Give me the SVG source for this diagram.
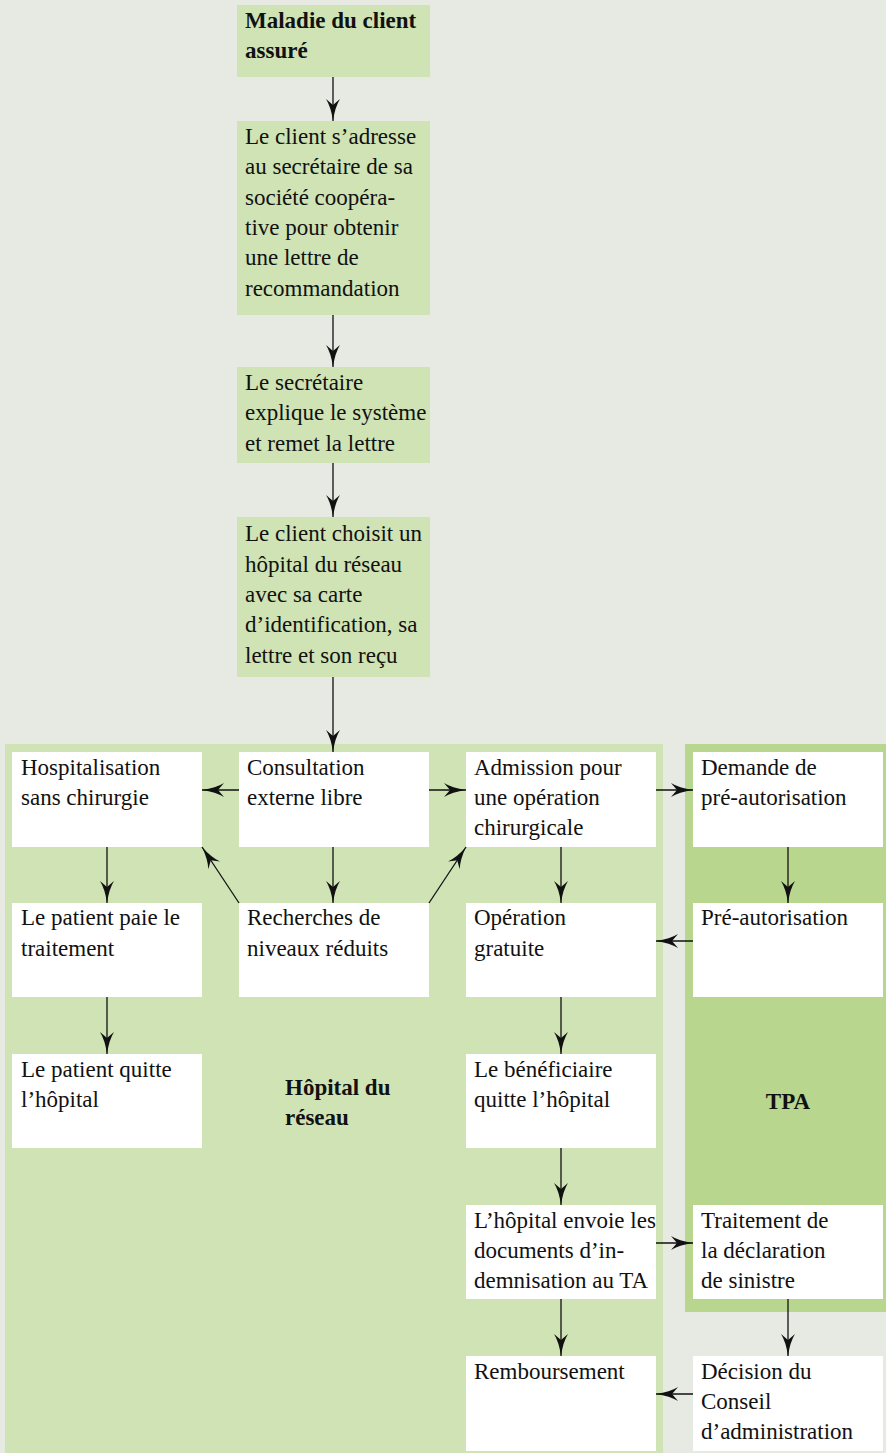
<svg xmlns="http://www.w3.org/2000/svg" width="886" height="1453" viewBox="0 0 886 1453">
<defs>
<style>
.bg{fill:#e7eae2}
.lg{fill:#cfe3b5}
.dg{fill:#b8d68e}
.wb{fill:#ffffff}
.t{font-family:"Liberation Serif","Times New Roman",serif;font-size:23px;fill:#111}
.b{font-weight:bold}
.c{stroke:#111;stroke-width:1.3;fill:none;marker-end:url(#ah)}
</style>
<marker id="ah" markerUnits="userSpaceOnUse" markerWidth="22" markerHeight="14" refX="22" refY="7" orient="auto"><path d="M0,0 Q8,5 22,7 Q8,9 0,14 L6,7 Z" fill="#111"/></marker>
</defs>
<rect class="bg" x="0" y="0" width="886" height="1453"/>
<rect id="hopital-region" class="lg" x="5" y="744" width="658" height="709"/>
<rect id="tpa-region" class="dg" x="685" y="744" width="201" height="568"/>

<g id="n-maladie"><rect class="lg" x="237" y="5" width="193" height="72"/>
<text class="t b"><tspan x="245" y="28">Maladie du client</tspan><tspan x="245" y="58">assuré</tspan></text></g>

<g id="n-client-adresse"><rect class="lg" x="237" y="121" width="193" height="194"/>
<text class="t"><tspan x="245" y="144">Le client s’adresse</tspan><tspan x="245" y="174">au secrétaire de sa</tspan><tspan x="245" y="205">société coopéra-</tspan><tspan x="245" y="235">tive pour obtenir</tspan><tspan x="245" y="265">une lettre de</tspan><tspan x="245" y="296">recommandation</tspan></text></g>

<g id="n-secretaire"><rect class="lg" x="237" y="367" width="193" height="96"/>
<text class="t"><tspan x="245" y="390">Le secrétaire</tspan><tspan x="245" y="420">explique le système</tspan><tspan x="245" y="451">et remet la lettre</tspan></text></g>

<g id="n-choisit"><rect class="lg" x="237" y="517" width="193" height="160"/>
<text class="t"><tspan x="245" y="541">Le client choisit un</tspan><tspan x="245" y="572">hôpital du réseau</tspan><tspan x="245" y="602">avec sa carte</tspan><tspan x="245" y="632">d’identification, sa</tspan><tspan x="245" y="663">lettre et son reçu</tspan></text></g>

<g id="n-hospitalisation"><rect class="wb" x="12" y="752" width="190" height="95"/>
<text class="t"><tspan x="21" y="775">Hospitalisation</tspan><tspan x="21" y="805">sans chirurgie</tspan></text></g>

<g id="n-consultation"><rect class="wb" x="239" y="752" width="190" height="95"/>
<text class="t"><tspan x="247" y="775">Consultation</tspan><tspan x="247" y="805">externe libre</tspan></text></g>

<g id="n-admission"><rect class="wb" x="466" y="752" width="190" height="95"/>
<text class="t"><tspan x="474" y="775">Admission pour</tspan><tspan x="474" y="805">une opération</tspan><tspan x="474" y="835">chirurgicale</tspan></text></g>

<g id="n-demande"><rect class="wb" x="693" y="752" width="190" height="95"/>
<text class="t"><tspan x="701" y="775">Demande de</tspan><tspan x="701" y="805">pré-autorisation</tspan></text></g>

<g id="n-paie"><rect class="wb" x="12" y="903" width="190" height="94"/>
<text class="t"><tspan x="21" y="925">Le patient paie le</tspan><tspan x="21" y="956">traitement</tspan></text></g>

<g id="n-recherches"><rect class="wb" x="239" y="903" width="190" height="94"/>
<text class="t"><tspan x="247" y="925">Recherches de</tspan><tspan x="247" y="956">niveaux réduits</tspan></text></g>

<g id="n-operation"><rect class="wb" x="466" y="903" width="190" height="94"/>
<text class="t"><tspan x="474" y="925">Opération</tspan><tspan x="474" y="956">gratuite</tspan></text></g>

<g id="n-preautorisation"><rect class="wb" x="693" y="903" width="190" height="94"/>
<text class="t"><tspan x="701" y="925">Pré-autorisation</tspan></text></g>

<g id="n-quitte"><rect class="wb" x="12" y="1054" width="190" height="94"/>
<text class="t"><tspan x="21" y="1077">Le patient quitte</tspan><tspan x="21" y="1107">l’hôpital</tspan></text></g>

<g id="n-beneficiaire"><rect class="wb" x="466" y="1054" width="190" height="94"/>
<text class="t"><tspan x="474" y="1077">Le bénéficiaire</tspan><tspan x="474" y="1107">quitte l’hôpital</tspan></text></g>

<g id="n-envoie"><rect class="wb" x="466" y="1205" width="190" height="94"/>
<text class="t"><tspan x="474" y="1228">L’hôpital envoie les</tspan><tspan x="474" y="1258">documents d’in-</tspan><tspan x="474" y="1288">demnisation au TA</tspan></text></g>

<g id="n-traitement"><rect class="wb" x="693" y="1205" width="190" height="94"/>
<text class="t"><tspan x="701" y="1228">Traitement de</tspan><tspan x="701" y="1258">la déclaration</tspan><tspan x="701" y="1288">de sinistre</tspan></text></g>

<g id="n-remboursement"><rect class="wb" x="466" y="1356" width="190" height="95"/>
<text class="t"><tspan x="474" y="1379">Remboursement</tspan></text></g>

<g id="n-decision"><rect class="wb" x="693" y="1356" width="190" height="95"/>
<text class="t"><tspan x="701" y="1379">Décision du</tspan><tspan x="701" y="1409">Conseil</tspan><tspan x="701" y="1439">d’administration</tspan></text></g>

<g id="label-hopital"><text class="t b"><tspan x="285" y="1095">Hôpital du</tspan><tspan x="285" y="1125">réseau</tspan></text></g>
<g id="label-tpa"><text class="t b" x="788" y="1109" text-anchor="middle">TPA</text></g>

<g id="connectors">
<line class="c" x1="333" y1="77" x2="333" y2="121"/>
<line class="c" x1="333" y1="315" x2="333" y2="367"/>
<line class="c" x1="333" y1="463" x2="333" y2="517"/>
<line class="c" x1="333" y1="677" x2="333" y2="752"/>
<line class="c" x1="239" y1="790" x2="202" y2="790"/>
<line class="c" x1="429" y1="790" x2="466" y2="790"/>
<line class="c" x1="656" y1="790" x2="693" y2="790"/>
<line class="c" x1="107" y1="847" x2="107" y2="903"/>
<line class="c" x1="107" y1="997" x2="107" y2="1054"/>
<line class="c" x1="333" y1="847" x2="333" y2="903"/>
<line class="c" x1="239" y1="903" x2="202" y2="847"/>
<line class="c" x1="429" y1="903" x2="466" y2="847"/>
<line class="c" x1="561" y1="847" x2="561" y2="903"/>
<line class="c" x1="561" y1="997" x2="561" y2="1054"/>
<line class="c" x1="561" y1="1148" x2="561" y2="1205"/>
<line class="c" x1="561" y1="1299" x2="561" y2="1356"/>
<line class="c" x1="788" y1="847" x2="788" y2="903"/>
<line class="c" x1="788" y1="1299" x2="788" y2="1356"/>
<line class="c" x1="693" y1="941" x2="656" y2="941"/>
<line class="c" x1="656" y1="1243" x2="693" y2="1243"/>
<line class="c" x1="693" y1="1394" x2="656" y2="1394"/>
</g>
</svg>
